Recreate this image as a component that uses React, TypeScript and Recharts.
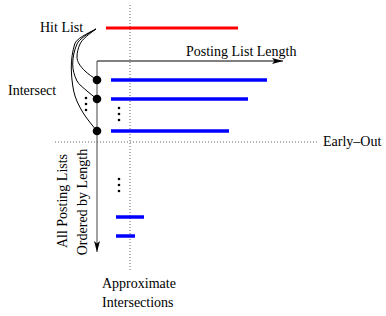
import React from 'react';
import { ComposedChart, Line, Scatter, XAxis, YAxis, ReferenceLine, Customized } from 'recharts';

const W = 386;
const H = 316;

// hit list (red) and the posting lists that get intersected with it
const hitListRow = 28;
const hitListStart = 106;
const hitListLength = 132;

const listStart = 111;
const postingRows = [80, 99, 131];
const postingLengths = [156, 137, 118];

// approximate intersections below the early-out line
const approxStart = 116;
const approxRows = [217, 236];
const approxLengths = [28, 19];

// axes of the sketch
const axisX = 97;
const axisTop = 61;
const lengthAxisEnd = 283;
const orderAxisEnd = 252;
const earlyOutRow = 142;
const approxCol = 130;

// arcs from hit list to each intersect point
const arcStart = { x: 96, y: 29 };
const arcPaths = [
  [{ x: 80, y: 44 }, { x: 77, y: 57 }, { x: 85, y: 71 }],
  [{ x: 77, y: 44 }, { x: 72.7, y: 64 }, { x: 77, y: 81 }, { x: 87, y: 91 }],
  [{ x: 74.7, y: 44 }, { x: 71.3, y: 67 }, { x: 73.7, y: 91 }, { x: 82, y: 111 }],
];

const ellipsisDots = [
  { x: 86, y: 98 }, { x: 86, y: 104 }, { x: 86, y: 110 },
  { x: 119, y: 108 }, { x: 119, y: 114 }, { x: 119, y: 120 },
  { x: 119, y: 179 }, { x: 119, y: 185 }, { x: 119, y: 191 },
];

const font = '"Liberation Serif", "Times New Roman", serif';
const txt = { fontFamily: font, fontSize: 14, fill: '#000' };

const seg = (x1: number, x2: number, y: number) => [{ x: x1, y }, { x: x2, y }];

const Overlay = () => (
  <g>
    <defs>
      <marker id="arrow" markerUnits="userSpaceOnUse" markerWidth={12} markerHeight={6} refX={11} refY={3} orient="auto">
        <path d="M0,0 L11,3 L0,6 L2.5,3 z" fill="#000" />
      </marker>
    </defs>
    <text x={40} y={32} style={txt}>Hit List</text>
    <text x={8} y={95} style={txt}>Intersect</text>
    <text x={186} y={56} style={txt}>Posting List Length</text>
    <text x={323} y={146} style={txt}>Early–Out</text>
    <text x={102} y={288} style={txt}>Approximate</text>
    <text x={102} y={307} style={txt}>Intersections</text>
    <text transform="translate(67,201) rotate(-90)" textAnchor="middle" style={txt}>All Posting Lists</text>
    <text transform="translate(87,202) rotate(-90)" textAnchor="middle" style={txt}>Ordered by Length</text>
  </g>
);

export default function App() {
  return (
    <div style={{ position: 'fixed', left: 0, top: 0, width: W, height: H, background: '#fff' }}>
      <ComposedChart width={W} height={H} margin={{ top: 0, right: 0, bottom: 0, left: 0 }}>
        <XAxis type="number" dataKey="x" domain={[0, W]} hide allowDataOverflow />
        <YAxis type="number" dataKey="y" domain={[0, H]} reversed hide allowDataOverflow />
        <Customized component={Overlay} />

        <ReferenceLine segment={[{ x: approxCol, y: 5 }, { x: approxCol, y: 272 }]} stroke="#666" strokeDasharray="1 2" ifOverflow="visible" />
        <ReferenceLine segment={[{ x: 55, y: earlyOutRow }, { x: 317, y: earlyOutRow }]} stroke="#666" strokeDasharray="1 2" ifOverflow="visible" />

        <Line data={seg(axisX, lengthAxisEnd, axisTop)} dataKey="y" stroke="#000" strokeWidth={1} dot={false} activeDot={false} isAnimationActive={false} markerEnd="url(#arrow)" />
        <Line data={[{ x: axisX, y: axisTop }, { x: axisX, y: orderAxisEnd }]} dataKey="y" stroke="#444" strokeWidth={1} dot={false} activeDot={false} isAnimationActive={false} markerEnd="url(#arrow)" />

        {arcPaths.map((pts, i) => (
          <Line
            key={`arc-${i}`}
            data={[arcStart, ...pts, { x: axisX, y: postingRows[i] }]}
            dataKey="y"
            type="monotoneY"
            stroke="#000"
            strokeWidth={1}
            dot={false}
            activeDot={false}
            isAnimationActive={false}
          />
        ))}

        <Line data={seg(hitListStart, hitListStart + hitListLength, hitListRow)} dataKey="y" stroke="#ff0000" strokeWidth={3} dot={false} activeDot={false} isAnimationActive={false} />
        {postingRows.map((row, i) => (
          <Line key={`pl-${i}`} data={seg(listStart, listStart + postingLengths[i], row)} dataKey="y" stroke="#0000ff" strokeWidth={3.5} dot={false} activeDot={false} isAnimationActive={false} />
        ))}
        {approxRows.map((row, i) => (
          <Line key={`ap-${i}`} data={seg(approxStart, approxStart + approxLengths[i], row)} dataKey="y" stroke="#0000ff" strokeWidth={3.5} dot={false} activeDot={false} isAnimationActive={false} />
        ))}

        <Scatter
          data={postingRows.map((row) => ({ x: axisX, y: row }))}
          dataKey="y"
          isAnimationActive={false}
          shape={(p: any) => <circle cx={p.cx} cy={p.cy} r={4.3} fill="#000" />}
        />
        <Scatter
          data={ellipsisDots}
          dataKey="y"
          isAnimationActive={false}
          shape={(p: any) => <circle cx={p.cx} cy={p.cy} r={1.3} fill="#000" />}
        />
      </ComposedChart>
    </div>
  );
}
